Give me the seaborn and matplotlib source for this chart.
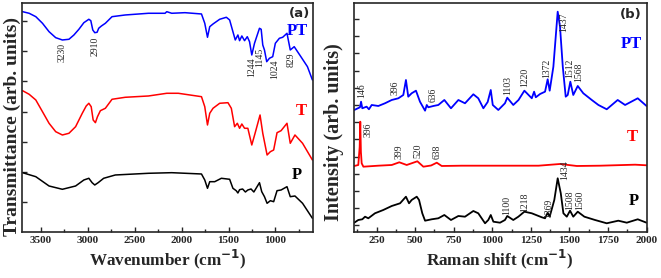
import numpy as np
import pandas as pd
import matplotlib
matplotlib.use("Agg")
import matplotlib.pyplot as plt
from matplotlib.ticker import MultipleLocator, FixedLocator
import seaborn as sns

# ---- FTIR (panel a) ----
ftir_pt_x = [3694, 3624, 3553, 3482, 3412, 3341, 3270, 3200, 3147, 3094, 3041, 2988, 2967, 2946, 2925, 2900,
             2883, 2854, 2812, 2741, 2600, 2353, 2176, 2158, 2105, 1964, 1788, 1753, 1724, 1700, 1665, 1594,
             1523, 1488, 1453, 1428, 1400, 1382, 1358, 1329, 1300, 1276, 1252, 1223, 1170, 1152, 1135, 1117,
             1093, 1064, 1029, 1001, 958, 923, 877, 842, 800, 729, 659, 606]
ftir_pt_y = [220.3, 218.7, 215.3, 208.7, 200.3, 194.3, 192, 192.7, 197, 202.7, 209.3, 212.7, 211.3, 202, 199.3,
             199.7, 203.7, 206, 208.7, 215.3, 217, 218.7, 218.7, 220.3, 218.7, 219.3, 218, 208.7, 194.7, 205.3,
             208, 212.7, 214.7, 212, 200.3, 192, 197, 191.3, 196, 191.3, 195.3, 190.3, 177, 188.7, 203.7, 202.7,
             187, 182, 170.3, 173.7, 175.3, 188.7, 193.7, 194.7, 198.7, 182, 185.3, 175.3, 165.3, 152]

ftir_t_x = [3694, 3624, 3553, 3482, 3412, 3341, 3270, 3200, 3129, 3058, 3016, 2988, 2963, 2942, 2918, 2896,
            2865, 2812, 2741, 2600, 2353, 2158, 2035, 1788, 1753, 1724, 1700, 1665, 1594, 1506, 1470, 1435,
            1406, 1382, 1358, 1329, 1294, 1252, 1217, 1164, 1135, 1089, 1054, 1019, 983, 940, 877, 842, 792,
            711, 606]
ftir_t_y = [141.3, 137.7, 132, 120.3, 108.7, 100.3, 97, 98.7, 105.3, 118.7, 126, 128.7, 125.3, 112, 109.3, 115.3,
            121.3, 123.7, 132.7, 134.7, 136, 138.7, 138.7, 135.3, 125.3, 107, 118.7, 123.7, 128.7, 129.3, 123.7,
            105.3, 108.7, 103.7, 108, 103.7, 103.7, 87, 98.7, 117, 98.7, 77, 80.3, 82, 99.3, 101.3, 108.7, 88.7,
            97, 88.7, 72]

ftir_p_x = [3694, 3553, 3412, 3270, 3129, 3041, 2988, 2953, 2925, 2889, 2830, 2706, 2353, 2105, 1788, 1753,
            1724, 1700, 1647, 1576, 1488, 1453, 1418, 1400, 1382, 1350, 1320, 1294, 1260, 1230, 1170, 1146,
            1117, 1089, 1054, 1019, 983, 940, 877, 842, 792, 711, 606]
ftir_p_y = [59.3, 55.3, 46, 42.7, 46, 52, 53.7, 49.3, 47, 49.3, 53.7, 57, 58.7, 59.3, 58, 52,
            43.7, 50.3, 50.3, 53.7, 52.7, 43.7, 41.3, 39, 42.3, 43, 40, 42, 43, 40, 49.3, 40.3,
            35.3, 28.7, 31.3, 30.3, 41.3, 42, 45.3, 35.3, 36, 28.7, 13.7]

ftir_lbl = ["3230", "2910", "1244", "1145", "1024", "829"]
ftir_lbl_x = [3270, 2918, 1252, 1163, 1011, 828]
ftir_lbl_y = [189, 195, 175, 184, 172, 179]

# ---- Raman (panel b) ----
ram_pt_x = [105, 142, 149, 157, 185, 200, 218, 261, 304, 348, 391, 423, 440, 455, 477, 505, 531, 564, 575,
            585, 618, 650, 689, 732, 780, 823, 877, 909, 942, 970, 990, 1003, 1039, 1082, 1097, 1136, 1170,
            1208, 1256, 1271, 1282, 1310, 1342, 1359, 1372, 1396, 1424, 1439, 1457, 1476, 1489, 1506, 1525,
            1554, 1590, 1645, 1688, 1742, 1813, 1861, 1943, 2000]
ram_pt_y = [122, 124.7, 130.3, 123.7, 125.3, 122.7, 127, 126, 128.7, 132, 133.7, 137, 152, 135.3, 138.7, 141.3,
            130.3, 121.3, 127, 124.7, 126, 127, 132, 123.7, 132, 128.7, 137.7, 133.7, 123.7, 130, 142, 127, 122,
            128.7, 134.3, 127, 132, 141.3, 133.7, 140.3, 134.7, 138, 140.3, 152.7, 141.3, 165.3, 220.3, 205.3,
            165.3, 135.3, 137, 150.3, 137, 146, 138.7, 132, 127, 122.7, 132, 127, 133.7, 126]

ram_t_x = [105, 131, 140, 144, 148, 153, 164, 261, 348, 397, 445, 514, 553, 603, 640, 672, 802, 953, 1100,
           1300, 1439, 1548, 1700, 1926, 2000]
ram_t_y = [66, 67, 85, 110.3, 80, 68.7, 65.3, 66.3, 67, 69.7, 67, 70.7, 65.3, 66.5, 69.3, 66, 66.3, 66.3, 66.3,
           66.3, 68, 66, 66.3, 67.3, 66.7]

ram_p_x = [105, 131, 157, 175, 196, 239, 293, 348, 402, 440, 460, 477, 510, 525, 546, 564, 607, 650, 689, 732,
           780, 823, 877, 909, 953, 974, 990, 1007, 1050, 1082, 1097, 1136, 1169, 1208, 1256, 1321, 1342, 1359,
           1372, 1402, 1424, 1444, 1461, 1483, 1504, 1525, 1554, 1597, 1666, 1742, 1817, 1872, 1943, 2000]
ram_p_y = [9.3, 12, 12.7, 15.3, 13.7, 18.7, 22, 26, 28.7, 35.3, 28.7, 32, 35.3, 32, 18.7, 11.3, 12.7, 13.7, 17,
           12, 16, 15.3, 21, 18.7, 8.7, 12, 17, 10.3, 9.3, 12, 16, 12, 15.3, 20.3, 18.7, 14.7, 13.7, 19.3,
           15.3, 32, 53.7, 38.7, 18.7, 15.3, 21.3, 15.3, 20.3, 15.3, 12, 8.7, 11.3, 9.3, 12.7, 9.3]

ram_lbl = ["146", "396", "636", "1103", "1220", "1372", "1437", "1512", "1568",
           "396", "399", "520", "638",
           "1100", "1218", "1369", "1434", "1508", "1560"]
ram_lbl_x = [153, 369, 618, 1097, 1212, 1353, 1461, 1504, 1558,
             192, 397, 516, 640,
             1094, 1212, 1363, 1472, 1504, 1569]
ram_lbl_y = [134, 137, 130, 137, 145, 154, 200, 154, 150,
             95, 73, 74, 73,
             17, 20, 14, 52, 22, 22]

colors = {"PT": "#0000ff", "T": "#ff0000", "P": "#000000"}

sns.set_theme(style="ticks")
plt.rcParams["font.family"] = ["Liberation Serif", "DejaVu Serif"]
plt.rcParams["font.weight"] = "bold"
plt.rcParams["axes.linewidth"] = 1.2

fig = plt.figure(figsize=(6.61, 2.78), dpi=100)
ax1 = fig.add_axes([0.0333, 0.1655, 0.4402, 0.822])
ax2 = fig.add_axes([0.5348, 0.1655, 0.4433, 0.822])

for name, xs, ys in [("PT", ftir_pt_x, ftir_pt_y), ("T", ftir_t_x, ftir_t_y), ("P", ftir_p_x, ftir_p_y)]:
    d = pd.DataFrame({"x": xs, "y": ys})
    sns.lineplot(data=d, x="x", y="y", ax=ax1, color=colors[name], lw=1.1, sort=False, estimator=None)

for name, xs, ys in [("PT", ram_pt_x, ram_pt_y), ("T", ram_t_x, ram_t_y), ("P", ram_p_x, ram_p_y)]:
    d = pd.DataFrame({"x": xs, "y": ys})
    sns.lineplot(data=d, x="x", y="y", ax=ax2, color=colors[name], lw=1.3, sort=False, estimator=None)

ax1.set_xlim(3700, 600)
ax1.set_ylim(0, 228.5)
ax2.set_xlim(100, 2000)
ax2.set_ylim(0, 228.5)

ax1.xaxis.set_major_locator(FixedLocator([3500, 3000, 2500, 2000, 1500, 1000]))
ax1.xaxis.set_minor_locator(MultipleLocator(250))
ax1.yaxis.set_major_locator(FixedLocator([29.5 + 30.3 * k for k in range(7)]))
ax2.xaxis.set_major_locator(MultipleLocator(250))
ax2.xaxis.set_minor_locator(MultipleLocator(125))
ax2.yaxis.set_major_locator(FixedLocator([6.6 + 17.2 * k for k in range(13)]))

for ax in (ax1, ax2):
    ax.tick_params(axis="both", which="both", direction="in", top=False, right=False)
    ax.tick_params(axis="both", which="major", length=3.5, width=1)
    ax.tick_params(axis="both", which="minor", length=2.5, width=1)
    ax.tick_params(axis="x", labelsize=8, pad=3)
    ax.set_yticklabels([])
    for lab in ax.get_xticklabels():
        lab.set_fontweight("bold")

ax1.set_xlabel("Wavenumber (cm$^{\\mathbf{-1}}$)", fontsize=12.3, fontweight="bold", labelpad=2)
ax2.set_xlabel("Raman shift (cm$^{\\mathbf{-1}}$)", fontsize=12.3, fontweight="bold", labelpad=2)
ax1.set_ylabel("Transmittance (arb. units)", fontsize=14, fontweight="bold")
ax2.set_ylabel("Intensity (arb. units)", fontsize=14.5, fontweight="bold")
ax1.yaxis.set_label_coords(-0.005, 0.462)
ax2.yaxis.set_label_coords(-0.032, 0.435)

for t, x, y in zip(ftir_lbl, ftir_lbl_x, ftir_lbl_y):
    ax1.text(x, y, t, rotation=90, fontsize=7, fontweight="normal", ha="center", va="top")
for t, x, y in zip(ram_lbl, ram_lbl_x, ram_lbl_y):
    ax2.text(x, y, t, rotation=90, fontsize=7, fontweight="normal", ha="center", va="bottom")

ax1.text(0.955, 0.954, "(a)", transform=ax1.transAxes, fontsize=9.5, fontweight="bold",
         family=["DejaVu Sans"], ha="center", va="center")
ax1.text(0.947, 0.880, "PT", transform=ax1.transAxes, fontsize=12, fontweight="bold", color=colors["PT"], ha="center", va="center")
ax1.text(0.959, 0.530, "T", transform=ax1.transAxes, fontsize=12, fontweight="bold", color=colors["T"], ha="center", va="center")
ax1.text(0.943, 0.249, "P", transform=ax1.transAxes, fontsize=12, fontweight="bold", color=colors["P"], ha="center", va="center")

ax2.text(0.945, 0.950, "(b)", transform=ax2.transAxes, fontsize=9.5, fontweight="bold",
         family=["DejaVu Sans"], ha="center", va="center")
ax2.text(0.949, 0.823, "PT", transform=ax2.transAxes, fontsize=12, fontweight="bold", color=colors["PT"], ha="center", va="center")
ax2.text(0.952, 0.414, "T", transform=ax2.transAxes, fontsize=12, fontweight="bold", color=colors["T"], ha="center", va="center")
ax2.text(0.957, 0.136, "P", transform=ax2.transAxes, fontsize=12, fontweight="bold", color=colors["P"], ha="center", va="center")

fig.savefig("out.png", dpi=100)
